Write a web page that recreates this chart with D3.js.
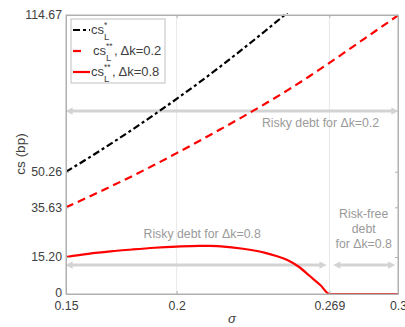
<!DOCTYPE html>
<html>
<head>
<meta charset="utf-8">
<script src="https://cdn.jsdelivr.net/npm/d3@7"></script>
<style>
  body { margin: 0; background: #fff; }
  svg text { font-family: "Liberation Sans", Arial, sans-serif; }
</style>
</head>
<body>
<svg id="chart" width="405" height="327"></svg>
<script>
// tick values
var xTicks = [0.15, 0.2, 0.269, 0.3];
var yTicks = [0, 15.20, 35.63, 50.26, 114.67];

// cs_L^*  (black dash-dot)
var sigmaStar = [0.15, 0.16, 0.17, 0.18, 0.19, 0.20, 0.21, 0.22, 0.23, 0.24, 0.25];
var csStar    = [50.26, 55.8, 61.6, 67.6, 73.8, 80.2, 86.8, 93.7, 100.8, 108.1, 115.6];

// cs_L^**, dk = 0.2 (red dashed)
var sigmaK02 = [0.15, 0.16, 0.17, 0.18, 0.19, 0.20, 0.21, 0.22, 0.23, 0.24, 0.25, 0.26, 0.27, 0.28, 0.29, 0.30];
var csK02    = [35.63, 39.8, 44.1, 48.5, 53.1, 57.9, 62.8, 67.8, 72.9, 78.2, 83.7, 89.5, 95.6, 101.9, 108.2, 114.5];

// cs_L^**, dk = 0.8 (red solid)
var sigmaK08 = [0.15, 0.16, 0.17, 0.18, 0.19, 0.20, 0.21, 0.215, 0.22, 0.23, 0.24, 0.245, 0.25, 0.255, 0.26, 0.265, 0.269, 0.28, 0.29, 0.30];
var csK08    = [15.2, 16.5, 17.5, 18.3, 19.0, 19.5, 19.8, 19.8, 19.6, 18.6, 16.9, 15.6, 14.0, 11.3, 7.5, 3.6, 0, 0, 0, 0];

// annotation arrows: [from sigma, to sigma, level]
var arrows = [[0.15, 0.3, 75.2], [0.15, 0.2675, 11.9], [0.271, 0.2985, 11.9]];

var svg = d3.select("#chart");
var margin = {top: 15, right: 7, bottom: 33, left: 66};
var width = 405 - margin.left - margin.right,
    height = 327 - margin.top - margin.bottom;

var x = d3.scaleLinear().domain([0.15, 0.3]).range([0, width]);
var y = d3.scaleLinear().domain([0, 114.67]).range([height, 0]);

var defs = svg.append("defs");
defs.append("clipPath").attr("id", "clip")
    .append("rect").attr("y", -2).attr("width", width).attr("height", height + 4);
function marker(id, path) {
    defs.append("marker").attr("id", id)
        .attr("viewBox", "0 0 10 10").attr("refX", 5).attr("refY", 5)
        .attr("markerWidth", 3.2).attr("markerHeight", 2.4)
        .attr("markerUnits", "strokeWidth").attr("orient", "auto")
        .append("path").attr("d", path).attr("fill", "#d3d3d3");
}
marker("arrEnd", "M0,0L10,5L0,10z");
marker("arrStart", "M10,0L0,5L10,10z");

var g = svg.append("g").attr("transform", "translate(" + margin.left + "," + margin.top + ")");

// vertical grid
g.selectAll(".grid").data(xTicks.slice(1, 3)).enter().append("line")
    .attr("x1", d => x(d)).attr("x2", d => x(d))
    .attr("y1", 0).attr("y2", height)
    .attr("stroke", "#e8e8e8").attr("stroke-width", 1);

// arrows
g.selectAll(".arrow").data(arrows).enter().append("line")
    .attr("x1", d => x(d[0]) + 3).attr("x2", d => x(d[1]) - 3)
    .attr("y1", d => y(d[2])).attr("y2", d => y(d[2]))
    .attr("stroke", "#d3d3d3").attr("stroke-width", 3)
    .attr("marker-start", "url(#arrStart)").attr("marker-end", "url(#arrEnd)");

// annotation texts
var noteColor = "#9a9a9a";
g.append("text").attr("x", x(0.2385)).attr("y", y(70.6)).attr("dy", "0.35em")
    .attr("font-size", 12.3).attr("fill", noteColor).text("Risky debt for \u0394k=0.2");
g.append("text").attr("x", x(0.2115)).attr("y", y(24.6)).attr("dy", "0.35em")
    .attr("text-anchor", "middle").attr("font-size", 12.3).attr("fill", noteColor)
    .text("Risky debt for \u0394k=0.8");
["Risk-free", "debt", "for \u0394k=0.8"].forEach(function (t, i) {
    g.append("text").attr("x", x(0.2845)).attr("y", y(32.9) + i * 15).attr("dy", "0.35em")
        .attr("text-anchor", "middle").attr("font-size", 12.3).attr("fill", noteColor).text(t);
});

// curves
var line = d3.line().x(d => x(d[0])).y(d => y(d[1])).curve(d3.curveMonotoneX);
var curves = g.append("g").attr("clip-path", "url(#clip)");
curves.append("path").datum(d3.zip(sigmaK08, csK08)).attr("d", line)
    .attr("fill", "none").attr("stroke", "#ff0000").attr("stroke-width", 2.2);
curves.append("path").datum(d3.zip(sigmaK02, csK02)).attr("d", line)
    .attr("fill", "none").attr("stroke", "#ff0000").attr("stroke-width", 2.2)
    .attr("stroke-dasharray", "8,5");
curves.append("path").datum(d3.zip(sigmaStar, csStar)).attr("d", line)
    .attr("fill", "none").attr("stroke", "#000").attr("stroke-width", 2.2)
    .attr("stroke-dasharray", "7,3,3,3");

// axes box
var axisColor = "#b0b0b0", textColor = "#404040";
var xAxis = g.append("g").attr("transform", "translate(0," + height + ")")
    .call(d3.axisBottom(x).tickValues(xTicks).tickFormat(d3.format("")).tickSizeInner(-3).tickSizeOuter(0).tickPadding(7));
var yAxis = g.append("g")
    .call(d3.axisLeft(y).tickValues(yTicks).tickFormat(d => d === 0 ? "0" : d3.format(".2f")(d)).tickSizeInner(-3).tickSizeOuter(0).tickPadding(4));
g.append("g").call(d3.axisTop(x).tickValues(xTicks).tickFormat("").tickSizeInner(-3).tickSizeOuter(0));
g.append("g").attr("transform", "translate(" + width + ",0)")
    .call(d3.axisRight(y).tickValues(yTicks).tickFormat("").tickSizeInner(-3).tickSizeOuter(0));
g.selectAll(".domain").attr("stroke", axisColor);
g.selectAll(".tick line").attr("stroke", axisColor);
g.selectAll(".tick text").attr("fill", textColor).attr("font-size", 12.3)
    .attr("font-family", "Liberation Sans, Arial, sans-serif");
yAxis.selectAll(".tick text").filter(d => d === 0).attr("dy", "0.2em");
g.append("rect").attr("width", width).attr("height", height)
    .attr("fill", "none").attr("stroke", axisColor);

// axis labels
svg.append("text").attr("transform", "translate(20,154) rotate(-90)")
    .attr("text-anchor", "middle").attr("dy", "0.35em").attr("font-size", 13.5)
    .attr("fill", textColor).text("cs (bp)");
svg.append("text").attr("x", 232).attr("y", 323)
    .attr("text-anchor", "middle").attr("font-size", 13).attr("font-style", "italic")
    .attr("font-family", "Liberation Serif, serif")
    .attr("fill", textColor).text("\u03c3");

// legend
var legend = [
    {sup: "*", extra: "", color: "#000", dash: "7,3,3,3"},
    {sup: "**", extra: ", \u0394k=0.2", color: "#ff0000", dash: "8,12"},
    {sup: "**", extra: ", \u0394k=0.8", color: "#ff0000", dash: null}
];
var lg = svg.append("g");
lg.append("rect").attr("x", 71).attr("y", 19).attr("width", 94).attr("height", 64)
    .attr("fill", "#fff").attr("stroke", "#c0c0c0");
legend.forEach(function (d, i) {
    var cy = 30 + i * 21;
    lg.append("line").attr("x1", 73).attr("x2", 90).attr("y1", cy).attr("y2", cy)
        .attr("stroke", d.color).attr("stroke-width", 2.2)
        .attr("stroke-dasharray", d.dash);
    var tx = i === 1 ? 93 : 91;
    lg.append("text").attr("x", tx).attr("y", cy + 4).attr("font-size", 13)
        .attr("fill", textColor).text("cs");
    lg.append("text").attr("x", tx + 13).attr("y", cy - 2).attr("font-size", 8.5)
        .attr("fill", textColor).text(d.sup);
    lg.append("text").attr("x", tx + 13).attr("y", cy + 10).attr("font-size", 9.5)
        .attr("fill", textColor).text("L");
    if (d.extra) {
        lg.append("text").attr("x", tx + 21).attr("y", cy + 4)
            .attr("font-size", 13).attr("fill", textColor).text(d.extra);
    }
});
</script>
</body>
</html>
